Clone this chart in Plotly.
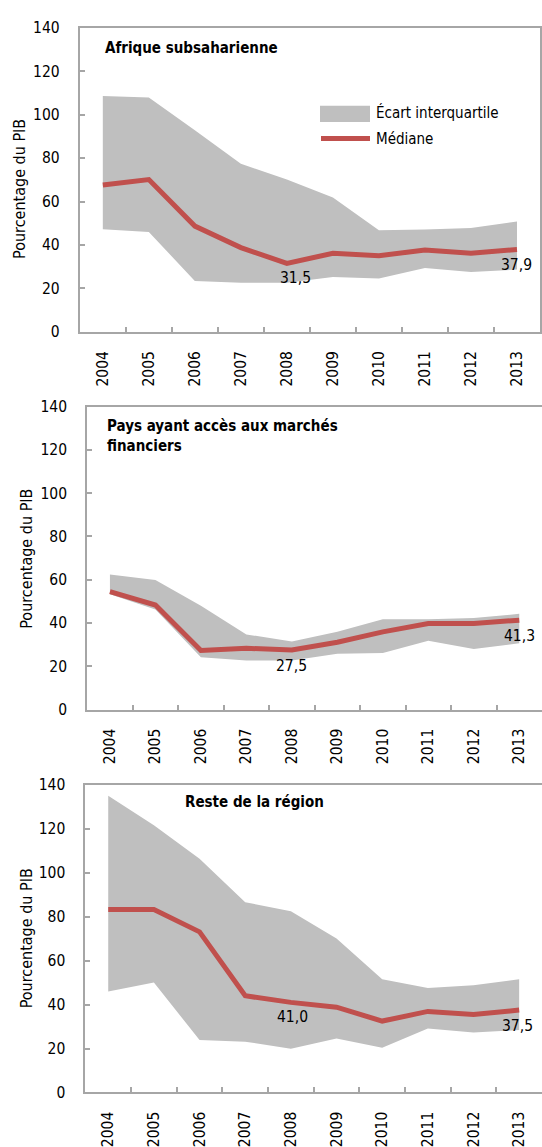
import plotly.graph_objects as go

# ---------------- data ----------------
years = ["2004", "2005", "2006", "2007", "2008", "2009", "2010", "2011", "2012", "2013"]

ssa_median = [67.6, 70.1, 48.7, 38.8, 31.5, 36.2, 35.0, 37.7, 36.2, 37.9]
ssa_q1 = [47.2, 46.0, 23.4, 22.6, 22.6, 25.2, 24.6, 29.4, 27.5, 28.7]
ssa_q3 = [108.6, 107.9, 92.8, 77.4, 70.1, 61.8, 46.8, 47.1, 47.8, 50.8]

mkt_median = [54.5, 48.3, 27.3, 28.3, 27.5, 31.1, 35.9, 39.7, 39.7, 41.3]
mkt_q1 = [53.3, 46.2, 24.1, 22.6, 22.6, 25.8, 26.1, 31.8, 28.0, 30.6]
mkt_q3 = [62.4, 59.8, 48.0, 34.7, 31.4, 35.9, 41.7, 41.7, 42.3, 44.2]

rest_median = [83.3, 83.3, 73.1, 44.0, 41.0, 38.8, 32.5, 36.9, 35.5, 37.5]
rest_q1 = [46.0, 50.0, 23.9, 23.1, 19.9, 24.6, 20.4, 29.1, 27.3, 28.4]
rest_q3 = [135.1, 121.6, 106.4, 86.6, 82.5, 70.1, 51.5, 47.5, 48.8, 51.5]

panel_titles = ["Afrique subsaharienne",
                "Pays ayant accès aux marchés<br>financiers",
                "Reste de la région"]
y_title = "Pourcentage du PIB"
legend_band = "Écart interquartile"
legend_median = "Médiane"
labeled_idx = [4, 9]

# ---------------- layout helpers ----------------
W, H = 542, 1147
FONT = "DejaVu Sans Condensed, Liberation Sans Narrow, Arial Narrow, Liberation Sans, sans-serif"
BAND = "#BFBFBF"
RED = "#C0504D"
FRAME = "#A6A6A6"


def px(x):
    return x / W


def py(y):
    return 1 - y / H


panels = [
    dict(med=ssa_median, q1=ssa_q1, q3=ssa_q3, x0=79.8, x1=540, y0=19, y1=328.3,
         right=True, title_xy=(103, 39.7), ytitle_xy=(20, 183),
         lab_shift=[(9, -15), (0, -15)]),
    dict(med=mkt_median, q1=mkt_q1, q3=mkt_q3, x0=87.2, x1=542, y0=404.3, y1=712.3,
         right=False, title_xy=(105.4, 433.7), ytitle_xy=(27, 559),
         lab_shift=[(0, -16), (0, -16)]),
    dict(med=rest_median, q1=rest_q1, q3=rest_q3, x0=85.4, x1=542, y0=789, y1=1101.7,
         right=False, title_xy=(182.5, 806), ytitle_xy=(26, 945),
         lab_shift=[(2, -15), (-2, -16)]),
]

fig = go.Figure()
annotations = []
shapes = []
tick_font = dict(family=FONT, size=15.5, color="#000000")
ytitle_font = dict(family=FONT, size=16, color="#000000")
small_font = dict(family=FONT, size=15, color="#000000")

for i, p in enumerate(panels, start=1):
    xa = "x" if i == 1 else f"x{i}"
    ya = "y" if i == 1 else f"y{i}"
    # interquartile band
    fig.add_trace(go.Scatter(
        x=years + years[::-1], y=p["q3"] + p["q1"][::-1],
        fill="toself", fillcolor=BAND, line=dict(width=0, color=BAND),
        mode="lines", hoverinfo="skip", showlegend=False, xaxis=xa, yaxis=ya))
    # median
    fig.add_trace(go.Scatter(
        x=years, y=p["med"], mode="lines",
        line=dict(color=RED, width=5), showlegend=False, xaxis=xa, yaxis=ya))

    fig.layout[f"xaxis{'' if i == 1 else i}"] = dict(
        domain=[px(p["x0"]), min(px(p["x1"]), 1.0)], anchor=ya,
        type="category", categoryorder="array", categoryarray=years,
        range=[-0.5, 9.5],
        showline=True, linecolor=FRAME, linewidth=2, mirror=True,
        ticks="inside", tickson="boundaries", ticklen=5, tickwidth=1.5,
        tickcolor=FRAME, tickangle=-90, tickfont=tick_font,
        ticklabelstandoff=11, showgrid=False, zeroline=False, fixedrange=True)
    fig.layout[f"yaxis{'' if i == 1 else i}"] = dict(
        domain=[py(p["y1"]), py(p["y0"])], anchor=xa,
        range=[0, 140], tick0=0, dtick=20,
        showline=True, linecolor=FRAME, linewidth=2, mirror=p["right"],
        ticks="inside", ticklen=5, tickwidth=1.5, tickcolor=FRAME,
        tickfont=tick_font, ticklabelstandoff=15,
        showgrid=False, zeroline=False, fixedrange=True)

    # panel title
    tx, ty = p["title_xy"]
    annotations.append(dict(
        text=f"<b>{panel_titles[i-1]}</b>", xref="paper", yref="paper",
        x=px(tx), y=py(ty), xanchor="left", yanchor="middle", align="left",
        showarrow=False, font=small_font))
    # y-axis title
    yx, yy = p["ytitle_xy"]
    annotations.append(dict(
        text=y_title, xref="paper", yref="paper", x=px(yx), y=py(yy),
        xanchor="center", yanchor="middle", textangle=-90, showarrow=False,
        font=ytitle_font))
    # data labels (category axis: use category index)
    for k, idx in enumerate(labeled_idx):
        v = p["med"][idx]
        dx, dy = p["lab_shift"][k]
        annotations.append(dict(
            text=f"{v:.1f}".replace(".", ","), xref=xa, yref=ya,
            x=idx, y=v, xshift=dx, yshift=dy,
            xanchor="center", yanchor="middle", showarrow=False,
            font=tick_font))

# custom legend (panel 1)
shapes.append(dict(type="rect", xref="paper", yref="paper",
                   x0=px(320), x1=px(370), y0=py(115), y1=py(98.3),
                   fillcolor=BAND, line=dict(width=0)))
shapes.append(dict(type="line", xref="paper", yref="paper",
                   x0=px(321), x1=px(370), y0=py(131.7), y1=py(131.7),
                   line=dict(color=RED, width=5)))
annotations.append(dict(text=legend_band, xref="paper", yref="paper",
                        x=px(374), y=py(105.5), xanchor="left", yanchor="middle",
                        showarrow=False, font=small_font))
annotations.append(dict(text=legend_median, xref="paper", yref="paper",
                        x=px(374), y=py(132), xanchor="left", yanchor="middle",
                        showarrow=False, font=small_font))

fig.update_layout(
    width=W, height=H, autosize=False,
    margin=dict(l=0, r=0, t=0, b=0, pad=0),
    paper_bgcolor="white", plot_bgcolor="white",
    font=tick_font,
    showlegend=False, annotations=annotations, shapes=shapes,
)

fig.write_html("out.html", post_script="document.body.style.margin='0';",
               config={"displayModeBar": False})
